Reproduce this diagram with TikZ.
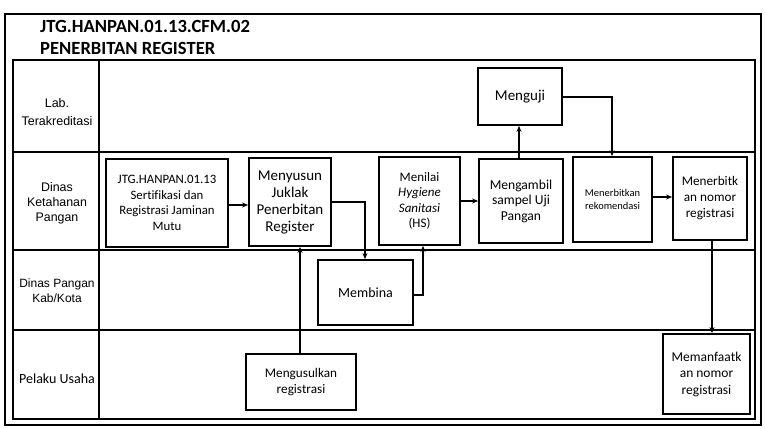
\documentclass[tikz,border=0pt]{standalone}
\usepackage{fontspec}
\setmainfont[Ligatures=NoCommon]{Carlito}
\newfontfamily\arialf{Liberation Sans}
\usetikzlibrary{arrows.meta}
\tikzset{
  box/.style={draw, line width=1.8pt, align=center, inner sep=2pt},
  fs/.style 2 args={font=\fontsize{#1}{#2}\selectfont},
  lanelbl/.style={align=center},
  flow/.style={line width=1.3pt, -{Stealth[length=6pt,width=5pt]}},
  grid/.style={line width=1.2pt},
}
\begin{document}
\begin{tikzpicture}[x=1pt,y=-1pt]
\useasboundingbox (0,0) rectangle (765,428);
% outer frame
\draw[line width=1.2pt] (5,14) rectangle (761,425);
% title
\node[anchor=base west, font=\bfseries\fontsize{18.6}{20}\selectfont, inner sep=0pt] (t1) at (40,33) {JTG.HANPAN.01.13.CFM.02};
\node[anchor=base west, font=\bfseries\fontsize{18.6}{20}\selectfont, inner sep=0pt] (t2) at (40,55) {PENERBITAN REGISTER};
% table
\draw[grid] (13,60) rectangle (755,419);
\draw[grid] (99,60) -- (99,419);
\draw[grid] (13,152) -- (755,152);
\draw[grid] (13,250) -- (755,250);
\draw[grid] (13,330) -- (755,330);
% lane labels
\node[lanelbl, font=\arialf\fontsize{12.5}{18}\selectfont] (l1) at (57,112) {Lab.\\Terakreditasi};
\node[lanelbl, font=\arialf\fontsize{12.4}{15}\selectfont] (l2) at (57,203) {Dinas\\Ketahanan\\Pangan};
\node[lanelbl, font=\arialf\fontsize{12}{15}\selectfont] (l3) at (57,291) {Dinas Pangan\\Kab/Kota};
\node[lanelbl, font=\fontsize{14}{16}\selectfont] (l4) at (57,379) {Pelaku Usaha};
% boxes
\node[box, fs={12.8}{15.5}, minimum width=122pt, minimum height=88pt] (jtg) at (167,203) {JTG.HANPAN.01.13\\Sertifikasi dan\\Registrasi Jaminan\\Mutu};
\node[box, fs={15}{17}, minimum width=82pt, minimum height=88pt] (susun) at (290,202) {Menyusun\\Juklak\\Penerbitan\\Register};
\node[box, fs={13}{15.5}, minimum width=81pt, minimum height=88pt] (nilai) at (419.5,201) {Menilai\\\textit{Hygiene}\\\textit{Sanitasi}\\(HS)};
\node[box, fs={13.6}{15.5}, minimum width=84pt, minimum height=84pt] (ambil) at (521,201) {Mengambil\\sampel Uji\\Pangan};
\node[box, fs={10.5}{13}, minimum width=79pt, minimum height=85pt] (rek) at (612.5,199.5) {Menerbitkan\\rekomendasi};
\node[box, fs={13.2}{16}, minimum width=74pt, minimum height=83pt] (nomor) at (710,198.5) {Menerbitk\\an nomor\\registrasi};
\node[box, fs={15}{16}, minimum width=84pt, minimum height=57pt] (uji) at (520,96.5) {Menguji};
\node[box, fs={14}{16}, minimum width=95pt, minimum height=65pt] (bina) at (365.5,292.5) {Membina};
\node[box, fs={13.2}{16}, minimum width=110pt, minimum height=56pt] (usul) at (301,382) {Mengusulkan\\registrasi};
\node[box, fs={13.5}{16.5}, minimum width=87pt, minimum height=80pt] (manfaat) at (706.5,374) {Memanfaatk\\an nomor\\registrasi};
% connectors
\draw[flow] (jtg.east |- 0,205) -- (susun.west |- 0,205);
\draw[flow] (susun.east |- 0,202) -| (bina.north -| 365,0);
\draw[flow] (usul.north -| 300,0) -- (susun.south -| 300,0);
\draw[flow] (bina.east |- 0,295) -| (nilai.south -| 423,0);
\draw[flow] (nilai.east |- 0,201) -- (ambil.west |- 0,201);
\draw[flow] (ambil.north -| 519,0) -- (uji.south -| 519,0);
\draw[flow] (uji.east |- 0,97) -| (rek.north -| 612,0);
\draw[flow] (rek.east |- 0,197) -- (nomor.west |- 0,197);
\draw[flow] (nomor.south -| 712,0) -- (manfaat.north -| 712,0);
\end{tikzpicture}
\end{document}
